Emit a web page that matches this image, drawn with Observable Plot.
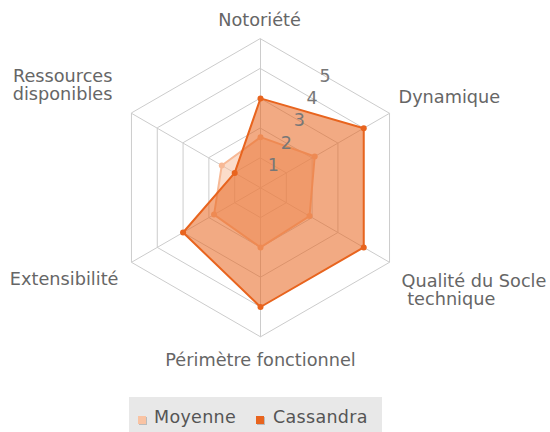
<!DOCTYPE html>
<html>
<head>
<meta charset="utf-8">
<script src="https://cdn.jsdelivr.net/npm/d3@7"></script>
<script src="https://cdn.jsdelivr.net/npm/@observablehq/plot@0.6"></script>
<style>
  html, body { margin: 0; padding: 0; background: #fff; }
  #chart { position: relative; width: 550px; height: 432px; font-family: "DejaVu Sans", sans-serif; }
  #legend { position: absolute; left: 129px; top: 397px; width: 253px; height: 35px; background: #e8e8e8; }
  .sw { position: absolute; width: 8px; height: 8px; }
  .lt { position: absolute; font-size: 17.5px; color: #555; line-height: 20px; letter-spacing: 0.3px; }
</style>
</head>
<body>
<div id="chart"></div>
<script>
// ---- data ----
const axisLabels = ["Notoriété", "Dynamique", "Qualité du Socle\n\u00a0technique", "Périmètre fonctionnel", "Extensibilité", "Ressources\ndisponibles"];
const seriesNames = ["Moyenne", "Cassandra"];
const moyenne = [1.7, 2.1, 1.9, 2.0, 1.8, 1.5];
const cassandra = [3, 4, 4, 4, 3, 1];
const levels = [1, 2, 3, 4, 5];
const tickLabels = ["1", "2", "3", "4", "5"];

// ---- geometry helpers ----
const n = axisLabels.length;
const ang = i => (i * 2 * Math.PI) / n; // clockwise from top
const px = (r, i) => r * Math.sin(ang(i));
const py = (r, i) => r * Math.cos(ang(i));
const maxLevel = d3.max(levels);

const ringData = levels.flatMap(l => d3.range(n).map(i => ({level: l, x: px(l, i), y: py(l, i)})));
const spokes = d3.range(n).map(i => ({x1: 0, y1: 0, x2: px(maxLevel, i), y2: py(maxLevel, i)}));
const seriesVals = {Moyenne: moyenne, Cassandra: cassandra};
const pts = seriesNames.flatMap(s => seriesVals[s].map((v, i) => ({series: s, x: px(v, i), y: py(v, i)})));
const tickData = levels.map((l, k) => ({label: tickLabels[k], x: l * Math.cos(Math.PI / 6) * Math.sin(Math.PI / 6), y: l * Math.cos(Math.PI / 6) * Math.cos(Math.PI / 6)}));
const labelPts = axisLabels.map((t, i) => ({label: t, x: px(maxLevel, i), y: py(maxLevel, i)}));

const colors = {Moyenne: "#f7b996", Cassandra: "#e8641e"};
const fillOp = {Moyenne: 0.5, Cassandra: 0.55};

const unit = 29.8, cx = 260, cy = 187.3, W = 550, H = 397;

const labelStyle = [
  {textAnchor: "middle", dx: -1, dy: -13},
  {textAnchor: "start", dx: 9, dy: -10},
  {textAnchor: "start", dx: 12, dy: 43},
  {textAnchor: "middle", dx: 0, dy: 29.4},
  {textAnchor: "end", dx: -13, dy: 23},
  {textAnchor: "end", dx: -19, dy: -13}
];

const marks = [
  Plot.line(ringData, {x: "x", y: "y", z: "level", curve: "linear-closed", stroke: "#cccccc", strokeWidth: 1}),
  Plot.link(spokes, {x1: "x1", y1: "y1", x2: "x2", y2: "y2", stroke: "#cccccc", strokeWidth: 1}),
];
for (const s of seriesNames) {
  const d = pts.filter(p => p.series === s);
  marks.push(Plot.line(d, {x: "x", y: "y", curve: "linear-closed", fill: colors[s], fillOpacity: fillOp[s], stroke: colors[s], strokeWidth: 2}));
  marks.push(Plot.dot(d, {x: "x", y: "y", r: 3, fill: colors[s], stroke: "none"}));
}
marks.push(Plot.text(tickData, {x: "x", y: "y", text: "label", fill: "#777", fontSize: 17.5, textAnchor: "middle", lineAnchor: "middle"}));
labelPts.forEach((d, i) => {
  const st = labelStyle[i];
  marks.push(Plot.text([d], {x: "x", y: "y", text: "label", fill: "#666", fontSize: 17.7, lineAnchor: "bottom", lineHeight: 1.02, textAnchor: st.textAnchor, dx: st.dx, dy: st.dy}));
});

const chart = Plot.plot({
  width: W, height: H,
  margin: 0,
  style: {fontFamily: "'DejaVu Sans', sans-serif", background: "transparent"},
  x: {domain: [-cx / unit, (W - cx) / unit], axis: null},
  y: {domain: [-(H - cy) / unit, cy / unit], axis: null},
  marks
});
const root = document.getElementById("chart");
root.appendChild(chart);

// legend
const leg = document.createElement("div");
leg.id = "legend";
const items = [
  {name: seriesNames[0], color: "#f9c3a3", sx: 9, tx: 25},
  {name: seriesNames[1], color: colors.Cassandra, sx: 127, tx: 144}
];
for (const it of items) {
  const sw = document.createElement("div");
  sw.className = "sw";
  sw.style.left = it.sx + "px"; sw.style.top = "19px"; sw.style.background = it.color;
  sw.style.boxShadow = "1px 1px 0 #bbb";
  leg.appendChild(sw);
  const t = document.createElement("div");
  t.className = "lt";
  t.style.left = it.tx + "px"; t.style.top = "10px";
  t.textContent = it.name;
  leg.appendChild(t);
}
root.appendChild(leg);
</script>
</body>
</html>
